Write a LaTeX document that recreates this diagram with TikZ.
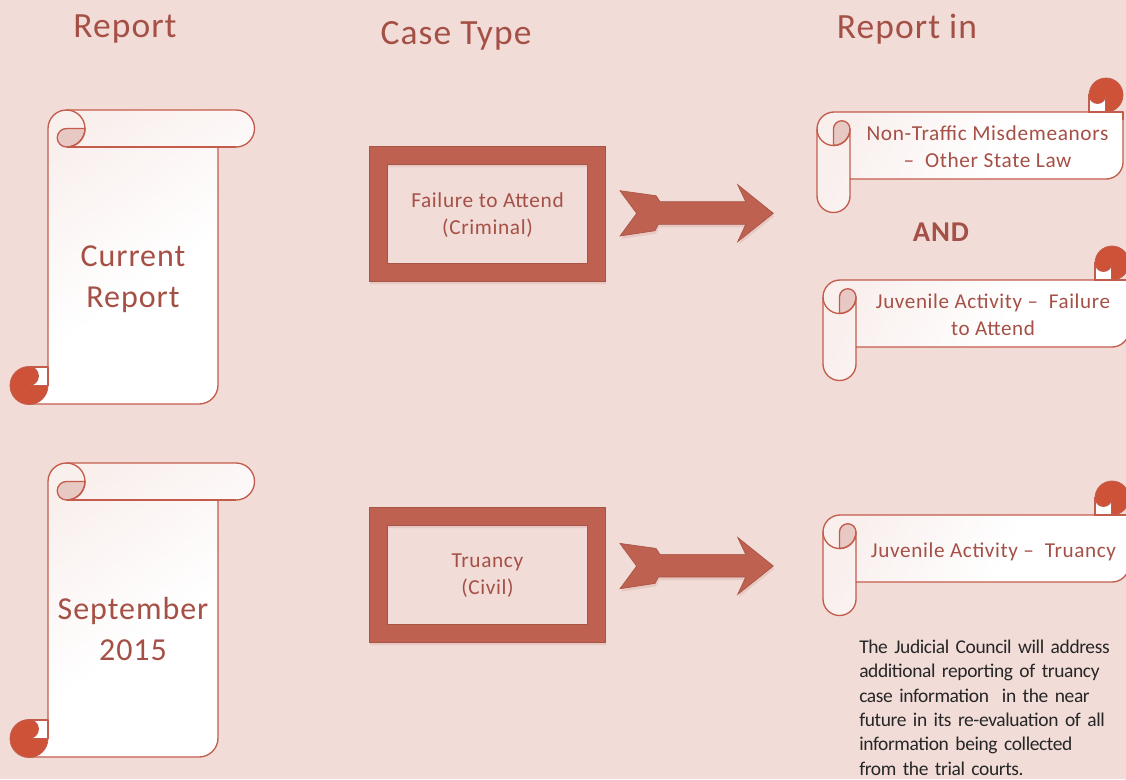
\documentclass[tikz,border=0pt]{standalone}
\usepackage{fontspec}
\setmainfont{Carlito}
\newfontfamily\spaced[LetterSpace=3]{Carlito}
\newfontfamily\tight[LetterSpace=-2]{Carlito}
\definecolor{bgc}{RGB}{241,220,216}
\definecolor{edgec}{RGB}{196,92,76}
\definecolor{curlc}{RGB}{206,82,56}
\definecolor{darkc}{RGB}{232,200,195}
\definecolor{boxc}{RGB}{190,97,80}
\definecolor{txtc}{RGB}{165,80,70}
\definecolor{paleend}{RGB}{249,240,238}
\pgfdeclarehorizontalshading{scrollfade}{100bp}{color(0bp)=(paleend); color(25bp)=(paleend); color(55bp)=(white); color(100bp)=(white)}
\tikzset{
 x=0.75pt,y=-0.75pt,
 scrollline/.style={draw=edgec,line width=1pt,line join=round},
 label/.style={text=txtc,font=\spaced,align=center,inner sep=0pt},
 softshadow/.style={fill=boxc,fill opacity=0.16,even odd rule},
 heavy/.style={fill=boxc,draw=boxc!88!black,line width=0.5pt,even odd rule},
}
% arcs below are given with angles as seen on the page; y runs downward, so they are negated
\newcommand{\vscroll}[1]{%
 \begin{scope}[shift={(0,#1)}]
  \path[scrollline,shading=scrollfade,shading angle=-55]
   (48,128.5) arc[start angle=-180,end angle=-90,radius=18.5] -- (236,110)
   arc[start angle=-90,end angle=90,radius=18.5] -- (218,147) -- (218,385)
   arc[start angle=0,end angle=90,radius=19] -- (29,404) -- (29,367) -- (48,367) -- cycle;
  \draw[scrollline] (66.5,147) -- (236,147);
  \path[scrollline,fill=darkc] (66.5,128.5) arc[start angle=-90,end angle=-270,radius=9.25]
    arc[start angle=90,end angle=0,radius=18.5] -- cycle;
  \draw[scrollline] (66.5,110) arc[start angle=-90,end angle=90,radius=18.5];
  \path[fill=white] (48,367) -- (29,367) -- (29,386) -- (48,386) -- cycle;
  \path[fill=curlc,draw=edgec,line width=0.6pt] (48,385.5)
    arc[start angle=0,end angle=270,radius=19]
    arc[start angle=-90,end angle=90,radius=9.5] -- cycle;
  \draw[scrollline] (29,367) -- (48,367) -- (48,385.5);
 \end{scope}}
\newcommand{\hscroll}[2]{%
 \begin{scope}[shift={(#1,#2)}]
  \path[scrollline,shading=scrollfade,shading angle=-25]
   (817,129) arc[start angle=-180,end angle=-90,radius=17] -- (1123,112) -- (1123,162)
   arc[start angle=0,end angle=90,radius=17] -- (850,179) -- (850,196)
   arc[start angle=0,end angle=180,radius=16.5] -- cycle;
  \path[fill=white,draw=edgec,line width=1pt] (1089,112) -- (1089,95) -- (1106,95) -- (1106,112) -- cycle;
  \path[fill=curlc,draw=edgec,line width=0.6pt] (1106,112)
    arc[start angle=90,end angle=-180,radius=17]
    arc[start angle=-180,end angle=-360,radius=8.5] -- cycle;
  \draw[scrollline] (1106,112) -- (1123,112) -- (1123,120);
  \path[scrollline,fill=darkc] (833.5,145.5) -- (833.5,129) arc[start angle=-180,end angle=0,radius=8.25]
    arc[start angle=0,end angle=90,radius=16.5] -- cycle;
  \draw[scrollline] (817,129) arc[start angle=180,end angle=0,radius=16.5] -- (850,179);
 \end{scope}}
\newcommand{\arrowoutline}[1]{(620,#1-22.6) -- (656,#1-17.6) -- (660,#1-11.6) -- (745.7,#1-11.6)
  -- (737.7,#1-28.6) -- (773.3,#1) -- (737.7,#1+28.4) -- (745.7,#1+11) -- (658.3,#1+11) -- (655,#1+17.4) -- (620,#1+22.7) -- (636.7,#1) -- cycle}
\newcommand{\bentarrow}[1]{%
 \path[softshadow,shift={(1,3)}] \arrowoutline{#1};
 \path[heavy] \arrowoutline{#1};}
\newcommand{\frameshape}[1]{%
 \path[softshadow,shift={(1,3)}] (369,#1) rectangle (605,#1+135) (387,#1+18) rectangle (587,#1+117);
 \path[heavy] (369,#1) rectangle (605,#1+135) (387,#1+18) rectangle (587,#1+117);}
\begin{document}
\begin{tikzpicture}
\useasboundingbox (0,0) rectangle (1126,779);
\fill[bgc] (0,0) rectangle (1126,779);
\node[label,font=\spaced\fontsize{26.6}{30}\selectfont] (h1) at (125,29) {Report};
\node[label,font=\spaced\fontsize{26.6}{30}\selectfont] (h2) at (456,36) {Case Type};
\node[label,font=\spaced\fontsize{26.6}{30}\selectfont] (h3) at (907,29) {Report in};
\vscroll{0}
\vscroll{353}
\node[label,font=\spaced\fontsize{24}{30.75}\selectfont] (s1) at (133,279) {Current\\Report};
\node[label,font=\spaced\fontsize{24}{30.75}\selectfont] (s2) at (133,629) {September\\2015};
\frameshape{146}
\frameshape{507}
\node[label,font=\spaced\fontsize{16}{20.25}\selectfont] (b1) at (487.5,215) {Failure to Attend\\(Criminal)};
\node[label,font=\spaced\fontsize{16}{20.25}\selectfont] (b2) at (487.5,576) {Truancy\\(Civil)};
\bentarrow{213.3}
\bentarrow{566}
\hscroll{0}{0}
\hscroll{6}{168}
\hscroll{6}{403}
\node[label,font=\spaced\fontsize{16}{20.25}\selectfont] (r1) at (987.5,147) {Non-Traffic Misdemeanors\\–\ \ Other State Law};
\node[label,font=\spaced\fontsize{15.8}{20.25}\selectfont] (r2) at (993,315) {Juvenile Activity –\ \ Failure\\to Attend};
\node[label,font=\spaced\fontsize{15.9}{20.25}\selectfont] (r3) at (993.5,552) {Juvenile Activity –\ \ Truancy};
\node[label,font=\bfseries\spaced\fontsize{21.5}{24}\selectfont] (and) at (941,232) {AND};
\node[inner sep=0pt,text=black!85,align=left,anchor=north west,font=\tight\fontsize{14.6}{18.3}\selectfont,text width=195pt] (note) at (859,639.5)
 {The Judicial Council will address\\additional reporting of truancy\\case information\ \ in the near\\future in its re-evaluation of all\\information being collected\\from the trial courts.};
\end{tikzpicture}
\end{document}
